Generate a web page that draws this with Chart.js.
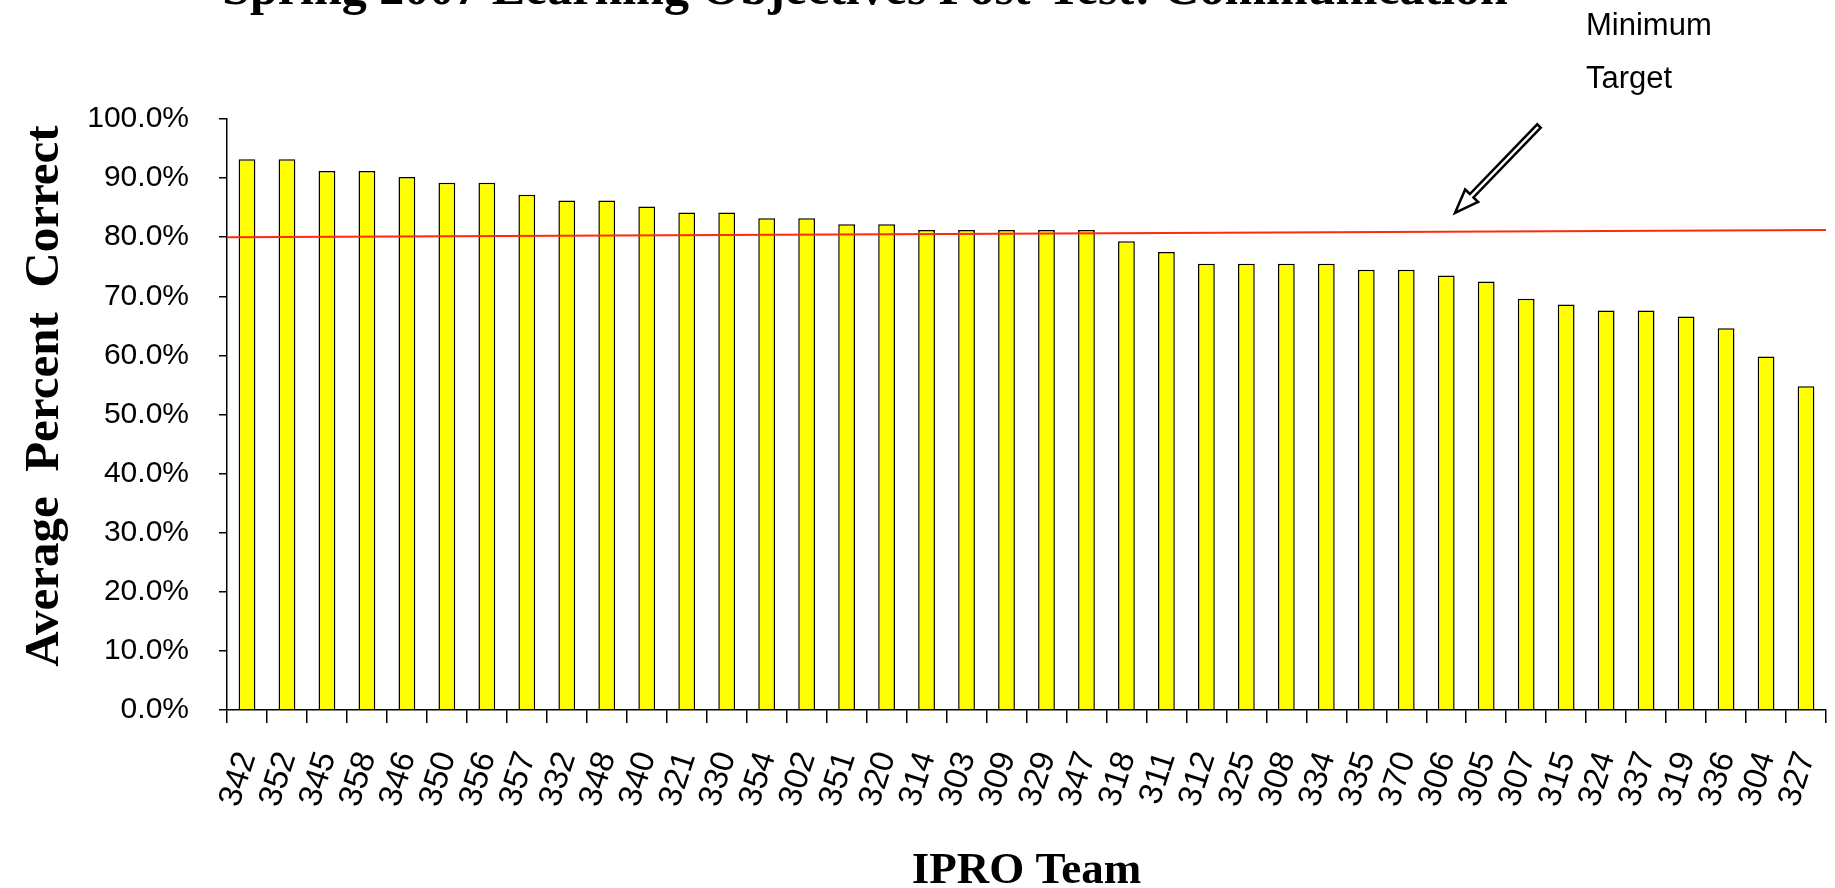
<!DOCTYPE html>
<html lang="en">

<head>
    <meta charset="utf-8">
    <script src="https://cdn.jsdelivr.net/npm/chart.js@4.4.1/dist/chart.umd.min.js"></script>
    <style>
        body { margin: 0; background: #fff; }
        canvas { display: block; }
    </style>
</head>

<body>
    <canvas id="barChart" width="1835" height="888"></canvas>

    <script>
        const teams = ['342', '352', '345', '358', '346', '350', '356', '357', '332', '348',
            '340', '321', '330', '354', '302', '351', '320', '314', '303', '309',
            '329', '347', '318', '311', '312', '325', '308', '334', '335', '370',
            '306', '305', '307', '315', '324', '337', '319', '336', '304', '327'];
        const avgCorrect = [93.2, 93.2, 91.2, 91.2, 90.2, 89.2, 89.2, 87.2, 86.2, 86.2,
            85.2, 84.2, 84.2, 83.2, 83.2, 82.2, 82.2, 81.2, 81.2, 81.2,
            81.2, 81.2, 79.3, 77.5, 75.5, 75.5, 75.5, 75.5, 74.5, 74.5,
            73.5, 72.5, 69.6, 68.6, 67.6, 67.6, 66.6, 64.6, 59.8, 54.8];
        // minimum target line, left end and right end (drawn slightly tilted in the original)
        const targetEnds = [80.0, 81.2];
        const titleText = 'Spring 2007 Learning Objectives Post-Test: Communication';
        const noteLines = ['Minimum', 'Target'];

        // title (cut off at the top), note text and the arrow
        const extras = {
            id: 'extras',
            afterDraw(chart) {
                const ctx = chart.ctx;
                ctx.save();
                ctx.fillStyle = '#000';
                ctx.font = 'bold 50px "Liberation Serif"';
                ctx.textAlign = 'center';
                ctx.textBaseline = 'alphabetic';
                ctx.fillText(titleText, 865, 4);

                ctx.font = '31px "Liberation Sans"';
                ctx.textAlign = 'left';
                ctx.fillText(noteLines[0], 1586, 35);
                ctx.fillText(noteLines[1], 1586, 88);

                // hollow arrow pointing down-left at the line
                const x0 = 1539, y0 = 126, x1 = 1455, y1 = 213;
                const ang = Math.atan2(y1 - y0, x1 - x0);
                const len = Math.hypot(x1 - x0, y1 - y0);
                ctx.translate(x0, y0);
                ctx.rotate(ang);
                const sw = 2.5, hw = 9, hl = 24;
                ctx.beginPath();
                ctx.moveTo(0, -sw);
                ctx.lineTo(len - hl, -sw);
                ctx.lineTo(len - hl, -hw);
                ctx.lineTo(len, 0);
                ctx.lineTo(len - hl, hw);
                ctx.lineTo(len - hl, sw);
                ctx.lineTo(0, sw);
                ctx.closePath();
                ctx.fillStyle = '#fff';
                ctx.fill();
                ctx.lineWidth = 2.5;
                ctx.strokeStyle = '#000';
                ctx.stroke();
                ctx.restore();
            }
        };

        const ctx = document.getElementById('barChart').getContext('2d');
        const chart = new Chart(ctx, {
            type: 'bar',
            data: {
                labels: teams,
                datasets: [{
                    type: 'line',
                    data: [{ x: 0, y: targetEnds[0] }, { x: 1, y: targetEnds[1] }],
                    xAxisID: 'xLine',
                    borderColor: '#ff2a10',
                    borderWidth: 2,
                    pointRadius: 0,
                    order: 0
                }, {
                    data: avgCorrect,
                    backgroundColor: '#ffff00',
                    borderColor: '#000',
                    borderWidth: 1.5,
                    grouped: false,
                    barPercentage: 0.42,
                    categoryPercentage: 1,
                    order: 1
                }]
            },
            options: {
                responsive: false,
                animation: false,
                layout: {
                    padding: { top: 119, right: 9, bottom: 0, left: 15 }
                },
                plugins: {
                    legend: { display: false },
                    tooltip: { enabled: false }
                },
                scales: {
                    x: {
                        offset: true,
                        grid: {
                            offset: true,
                            drawOnChartArea: false,
                            color: '#000',
                            tickLength: 13,
                            lineWidth: 1.5
                        },
                        border: { color: '#000', width: 1.5 },
                        ticks: {
                            autoSkip: false,
                            minRotation: 72,
                            maxRotation: 72,
                            padding: 24,
                            color: '#000',
                            font: { family: '"Liberation Sans"', size: 33 }
                        },
                        title: {
                            display: true,
                            text: 'IPRO Team',
                            color: '#000',
                            padding: 0,
                            font: { family: '"Liberation Serif"', size: 45, weight: 'bold', lineHeight: 0.72 }
                        },
                        afterFit(scale) {
                            scale.height = 178;
                            scale.paddingLeft = 0;
                            scale.paddingRight = 0;
                        }
                    },
                    xLine: {
                        type: 'linear',
                        min: 0,
                        max: 1,
                        offset: false,
                        display: false
                    },
                    y: {
                        min: 0,
                        max: 100,
                        grid: {
                            drawOnChartArea: false,
                            color: '#000',
                            tickLength: 8,
                            lineWidth: 1.5
                        },
                        border: { color: '#000', width: 1.5 },
                        ticks: {
                            stepSize: 10,
                            padding: 30,
                            color: '#000',
                            font: { family: '"Liberation Sans"', size: 30 },
                            callback: v => v.toFixed(1) + '%'
                        },
                        title: {
                            display: true,
                            text: '   Average  Percent  Correct',
                            color: '#000',
                            padding: { top: 1, bottom: 0 },
                            font: { family: '"Liberation Serif"', size: 49, weight: 'bold', lineHeight: 1.2 }
                        },
                        afterFit(scale) { scale.width = 212; }
                    }
                }
            },
            plugins: [extras]
        });
    </script>
</body>

</html>
